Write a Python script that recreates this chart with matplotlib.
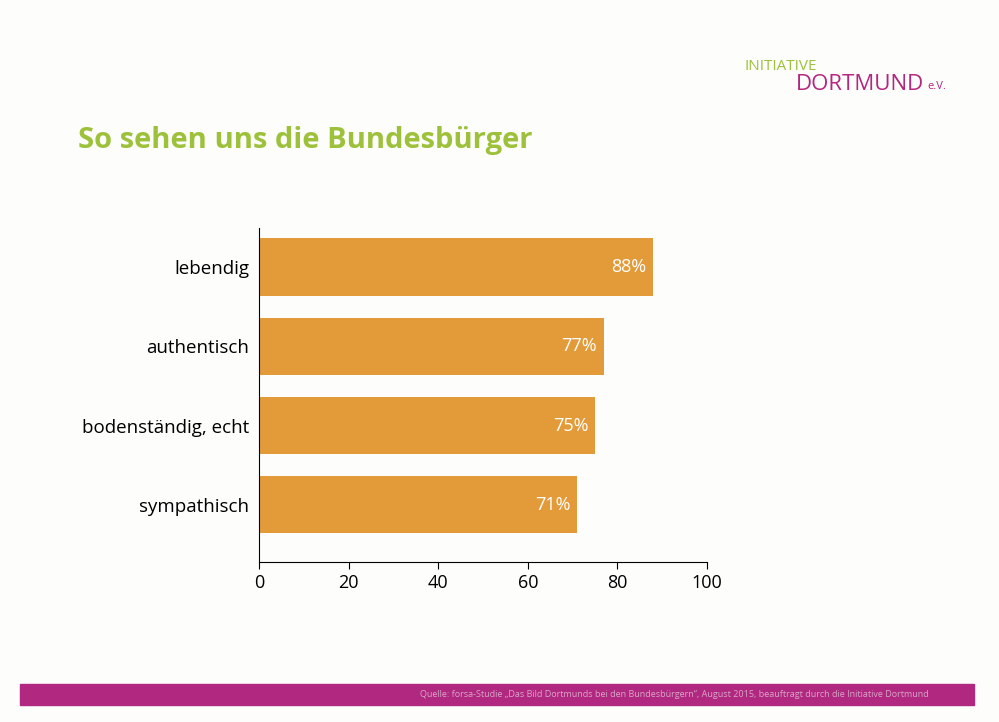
import matplotlib
matplotlib.use("Agg")
import matplotlib.pyplot as plt
from matplotlib.patches import Rectangle

categories = ["lebendig", "authentisch", "bodenständig, echt", "sympathisch"]
values = [88, 77, 75, 71]
labels = ["88%", "77%", "75%", "71%"]
ticks = [0, 20, 40, 60, 80, 100]

plt.rcParams['font.family'] = ['Open Sans', 'DejaVu Sans']
fig = plt.figure(figsize=(9.99, 7.22), dpi=100)
fig.patch.set_facecolor("#fdfdfb")
ax = fig.add_axes([0.2593, 0.2216, 0.4484, 0.4624])
ax.set_facecolor("none")
pos = list(range(len(categories)))[::-1]
ax.barh(pos, values, height=0.72, color="#E39B3A")
for p, v, l in zip(pos, values, labels):
    ax.text(v - 1.5, p, l, ha="right", va="center", color="white", fontsize=13)
ax.set_yticks(pos)
ax.set_yticklabels(categories, fontsize=13.5)
ax.tick_params(axis="y", length=0, pad=7)
ax.set_xticks(ticks)
ax.tick_params(axis="x", labelsize=13, length=5)
ax.set_xlim(0, 100)
ax.set_ylim(-0.72, 3.49)
for s in ["top", "right"]:
    ax.spines[s].set_visible(False)

fig.text(0.078, 0.795, "So sehen uns die Bundesbürger", color="#9DC13B",
         fontsize=21, fontweight="bold")
fig.text(0.745, 0.903, "INITIATIVE", color="#9DC13B", fontsize=11)
fig.text(0.797, 0.875, "DORTMUND", color="#B5267E", fontsize=16)
fig.text(0.928, 0.877, "e.V.", color="#B5267E", fontsize=8)

fig.patches.append(Rectangle((0.02, 0.023), 0.955, 0.03, transform=fig.transFigure,
                             color="#B0287F"))
fig.text(0.93, 0.038, "Quelle: forsa-Studie „Das Bild Dortmunds bei den Bundesbürgern“, August 2015, beauftragt durch die Initiative Dortmund",
         color="#d9a6c8", fontsize=6.5, ha="right", va="center")
fig.savefig("out.png", dpi=100, facecolor=fig.get_facecolor())
